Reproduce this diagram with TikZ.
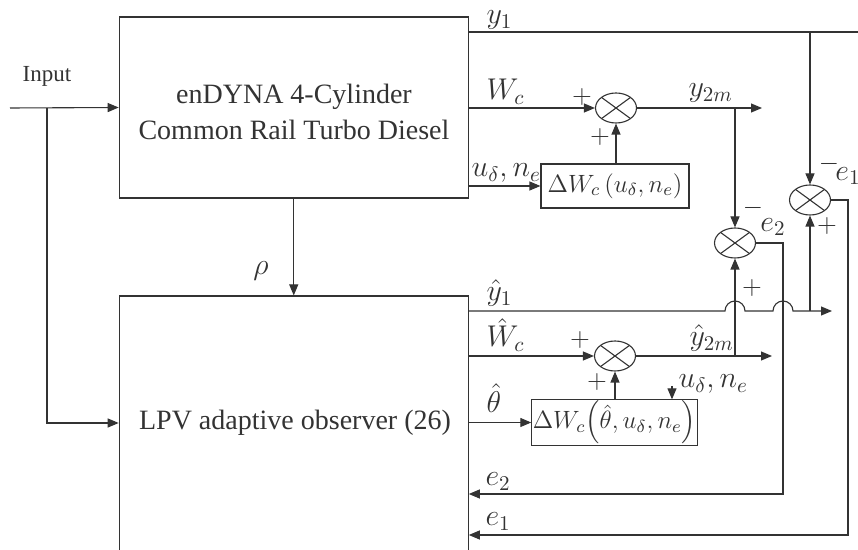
\RequirePackage{fix-cm}
\documentclass[tikz,border=0pt]{standalone}
\usepackage{amsmath}
\usepackage{fontspec}
\setmainfont{Liberation Serif}
\usetikzlibrary{arrows.meta,shapes.geometric,calc}
\begin{document}
\begin{tikzpicture}[x=0.5pt,y=-0.5pt,line width=0.55pt,color=black!80,
  blk/.style={draw,rectangle,inner sep=0pt,minimum width=174.5pt},
  fbox/.style={draw,rectangle,inner sep=1pt,font=\fontsize{12.5}{14}\selectfont},
  sumnode/.style={draw,ellipse,inner sep=0pt,minimum width=20.5pt,minimum height=15pt,
     path picture={\draw (path picture bounding box.north west)--(path picture bounding box.south east)
                         (path picture bounding box.south west)--(path picture bounding box.north east);}},
  conn/.style={-{Triangle[length=5.5pt,width=4.5pt]}},
  lbl/.style={inner sep=0pt,font=\fontsize{15}{17}\selectfont},
  sgn/.style={inner sep=0pt,font=\fontsize{13}{15}\selectfont},
  txt/.style={inner sep=0pt,font=\fontsize{14}{18}\selectfont,align=center}]
\useasboundingbox (0,0) rectangle (858,550);

% blocks
\node[blk,minimum height=90.5pt] (plant) at (293.75,107.5) {};
\node[txt] (planttext) at (294,112) {enDYNA 4-Cylinder\\Common Rail Turbo Diesel};
\node[blk,minimum height=162pt] (obs) at (293.75,458) {};
\node[txt] (obstext) at (295,423) {LPV adaptive observer (26)};

\node[sumnode] (sA) at (616,108) {};
\node[sumnode] (sB) at (615,356) {};
\node[sumnode] (s1) at (810,200) {};
\node[sumnode] (s2) at (735,243) {};

\node[fbox,minimum width=74pt,minimum height=22pt] (dwA) at (615,186)
  {$\Delta W_c\left(u_\delta,n_e\right)$};
\node[fbox,minimum width=74.5pt,minimum height=21.5pt,inner sep=0.5pt] (dwB) at (614.5,422.5)
  {$\Delta W_c\!\left(\hat{\theta},u_\delta,n_e\right)$};

% coordinates
\coordinate (in0) at (10,108);
\coordinate (inb) at (47,108);
\coordinate (y1end) at (858,32);
\coordinate (y1br) at (810,32);
\coordinate (y2end) at (762,108);
\coordinate (y2br) at (735,108);
\coordinate (yh1end) at (832,311);
\coordinate (yh1br) at (810,311);
\coordinate (yh2end) at (772,356);
\coordinate (e1c) at (848,535);
\coordinate (e2c) at (783,494);
\coordinate (ua) at (672,386);

% input
\node[inner sep=0pt,font=\fontsize{11.5}{13}\selectfont] (inlbl) at (47,76) {Input};
\draw[conn] (in0) -- (plant.west);
\draw[conn] (inb) |- (obstext -| obs.west);
\draw[conn] (plant.south) -- (obs.north);
\node[lbl] (rho) at (261,271) {$\rho$};

% plant outputs
\draw (plant.east |- y1end) -- (y1end);
\draw[conn] (y1br) -- (s1.north);
\draw[conn] (plant.east |- sA) -- (sA.west);
\draw[conn] (sA.east) -- (y2end);
\draw[conn] (y2br) -- (s2.north);
\draw[conn] (dwA.west -| plant.east) -- (dwA.west);
\draw[conn] (dwA.north -| sA.south) -- (sA.south);

% observer outputs
\draw[conn] (obs.east |- yh1end)
  -- ($(s2.south |- yh1end)+(-5pt,0)$) arc[start angle=180,end angle=0,radius=5pt]
  -- ($(e2c |- yh1end)+(-5pt,0)$) arc[start angle=180,end angle=0,radius=5pt]
  -- (yh1end);
\draw[conn] (yh1br) -- (s1.south);
\draw[conn] (obs.east |- sB) -- (sB.west);
\draw[conn] (sB.east) -- (yh2end);
\draw[conn] (s2.south |- sB) -- (s2.south);
\draw[conn] (sB.south |- dwB.north) -- (sB.south);
\draw[conn] (obs.east |- dwB.west) -- (dwB.west);
\draw[conn] (ua) -- (ua |- dwB.north);

% error feedback
\draw[conn] (s1.east) -| (e1c) -- (obs.east |- e1c);
\draw[conn] (s2.east) -| (e2c) -- (obs.east |- e2c);

% labels
\node[lbl,anchor=south west] (ly1) at (486,30) {$y_1$};
\node[lbl,anchor=south west] (lwc) at (486,105) {$W_c$};
\node[lbl,anchor=south west] (lune) at (471,183) {$u_\delta,n_e$};
\node[lbl,anchor=south west] (ly2m) at (688,103) {$y_{2m}$};
\node[lbl,anchor=south west] (lyh1) at (486,307) {$\hat{y}_1$};
\node[lbl,anchor=south west] (lwch) at (486,352) {$\hat{W}_c$};
\node[lbl,anchor=south west] (lyh2m) at (689,352) {$\hat{y}_{2m}$};
\node[lbl,anchor=south west] (lth) at (486,413) {$\hat{\theta}$};
\node[lbl,anchor=south west] (le2b) at (485,491) {$e_2$};
\node[lbl,anchor=south west] (le1b) at (485,531) {$e_1$};
\node[lbl,anchor=west] (lune2) at (678,384) {$u_\delta,n_e$};
\node[lbl] (le1) at (848,176) {$e_1$};
\node[lbl] (le2) at (773,227) {$e_2$};

% signs
\node[sgn] (pA1) at (582,97) {$+$};
\node[sgn] (pA2) at (600,137) {$+$};
\node[sgn] (pB1) at (580,340) {$+$};
\node[sgn] (pB2) at (597,382) {$+$};
\node[sgn] (m1) at (829,164) {$-$};
\node[sgn] (p1) at (827,226) {$+$};
\node[sgn] (m2) at (753,208) {$-$};
\node[sgn] (p2) at (752,288) {$+$};
\end{tikzpicture}
\end{document}
